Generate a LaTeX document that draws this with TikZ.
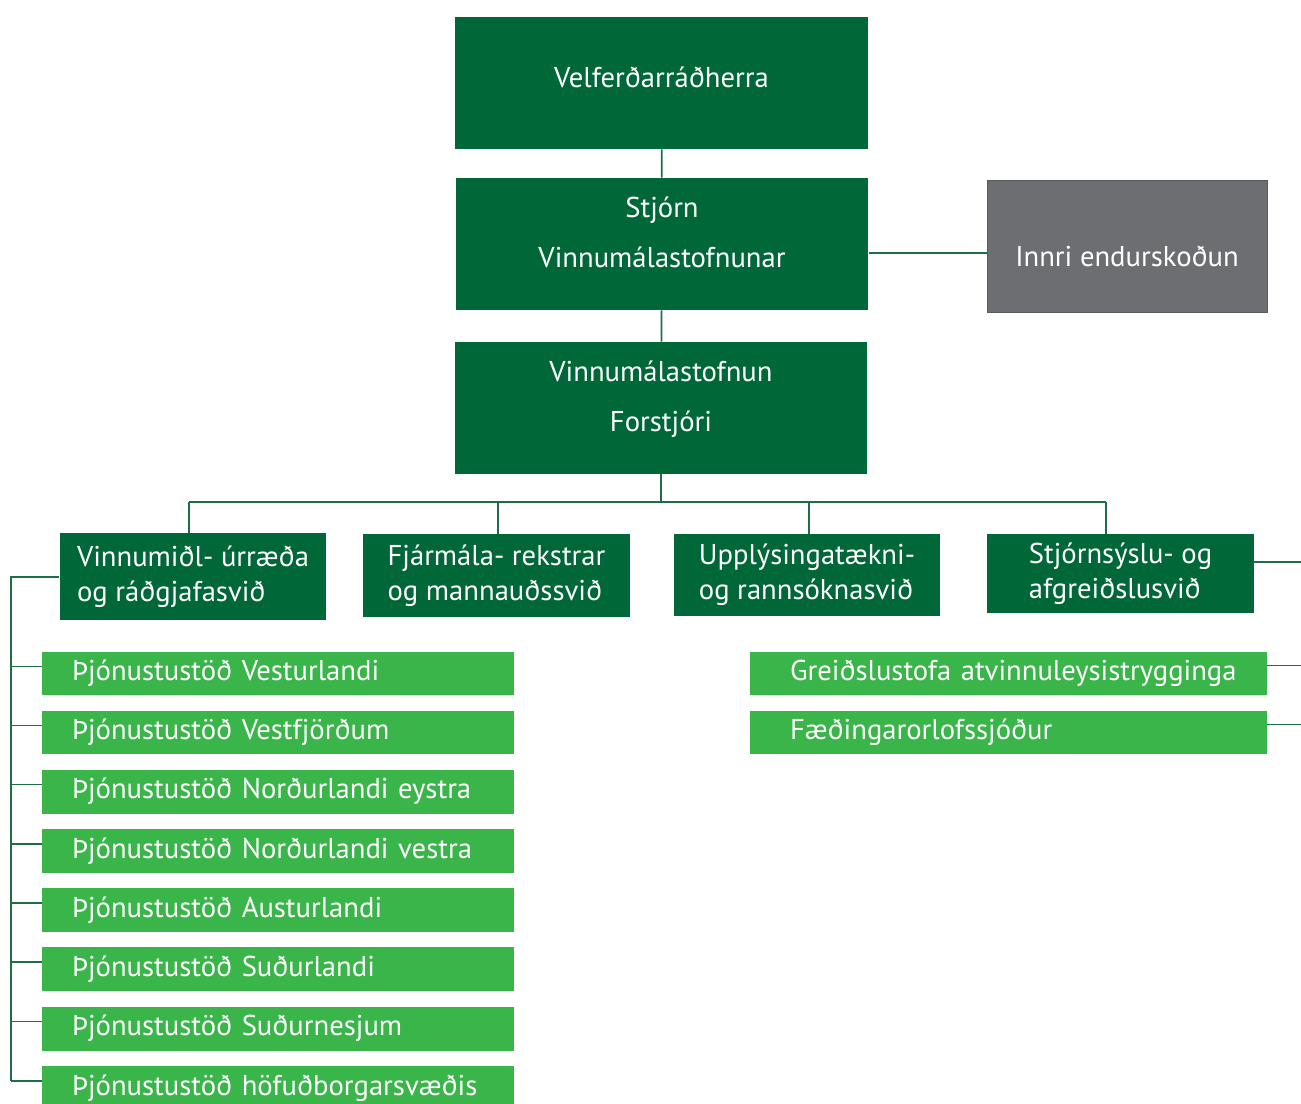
\documentclass[tikz,border=0pt]{standalone}
\usepackage{fontspec}
\setmainfont{PT Sans}
\usepackage{tikz}
\usetikzlibrary{positioning,calc}

\definecolor{darkgreen}{HTML}{006838}
\definecolor{lightgreen}{HTML}{3AB54A}
\definecolor{linegreen}{HTML}{1D6E48}
\definecolor{boxgray}{HTML}{6D6E71}
\definecolor{edgegray}{HTML}{58595B}

\begin{document}
\begin{tikzpicture}[x=0.02cm, y=-0.02cm,
	topbox/.style={fill=darkgreen, text=white, minimum width=8.26cm, minimum height=2.64cm, align=center, font=\fontsize{16.3}{28.5}\selectfont},
	divbox/.style={fill=darkgreen, text=white, minimum width=5.34cm, minimum height=1.66cm, align=left, font=\fontsize{16.3}{20}\selectfont},
	office/.style={fill=lightgreen, text=white, minimum height=0.88cm, inner xsep=0.6cm, align=left, font=\fontsize{16.3}{19}\selectfont},
	link/.style={draw=linegreen, line width=1pt}]
	\useasboundingbox (0,0) rectangle (1301,1104);

	\node[topbox, text height=12pt, text depth=6.8pt] (velf) at (661.5, 83) {Velferðarráðherra};
	\node[topbox, text height=40pt, text depth=13.4pt] (stjorn) at (662, 244) {Stjórn\\Vinnumálastofnunar};
	\node[fill=boxgray, draw=edgegray, text=white, minimum width=5.6cm, minimum height=2.64cm, text height=30pt, text depth=6.6pt, font=\fontsize{16.3}{19}\selectfont] (innri) at (1127, 246) {Innri endurskoðun};
	\node[topbox, text height=40pt, text depth=13.4pt] (forstj) at (661, 408) {Vinnumálastofnun\\Forstjóri};

	\node[divbox, minimum height=1.74cm] (vmr) at (193, 576.5) {Vinnumiðl- úrræða\\og ráðgjafasvið};
	\node[divbox] (fjar) at (496.5, 575.5) {Fjármála- rekstrar\\og mannauðssvið};
	\node[divbox, minimum height=1.64cm] (upp) at (807, 575) {Upplýsingatækni-\\og rannsóknasvið};
	\node[divbox, minimum height=1.58cm] (stj) at (1120.5, 573.5) {Stjórnsýslu- og\\afgreiðslusvið};

	\node[office, text width=8.24cm] (p1) at (278, 673.5) {Þjónustustöð Vesturlandi};
	\node[office, text width=8.24cm] (p2) at (278, 732.5) {Þjónustustöð Vestfjörðum};
	\node[office, text width=8.24cm] (p3) at (278, 791.5) {Þjónustustöð Norðurlandi eystra};
	\node[office, text width=8.24cm] (p4) at (278, 851) {Þjónustustöð Norðurlandi vestra};
	\node[office, text width=8.24cm] (p5) at (278, 910) {Þjónustustöð Austurlandi};
	\node[office, text width=8.24cm] (p6) at (278, 969) {Þjónustustöð Suðurlandi};
	\node[office, text width=8.24cm] (p7) at (278, 1028.5) {Þjónustustöð Suðurnesjum};
	\node[office, text width=8.24cm] (p8) at (278, 1088) {Þjónustustöð höfuðborgarsvæðis};

	\node[office, text width=8.74cm, inner xsep=0.8cm] (g1) at (1008.5, 673.5) {\mbox{Greiðslustofa atvinnuleysistrygginga}};
	\node[office, text width=8.74cm, inner xsep=0.8cm] (g2) at (1008.5, 732.5) {Fæðingarorlofssjóður};

	% top chain
	\draw[link] (velf) -- (stjorn);
	\draw[link] (stjorn) -- (forstj);
	\draw[link] (stjorn.east |- 0,253) -- (innri.west |- 0,253);

	% bus to the four divisions
	\coordinate (b0) at (661, 502);
	\coordinate (b1) at (189, 502);
	\coordinate (b2) at (498, 502);
	\coordinate (b3) at (809, 502);
	\coordinate (b4) at (1106, 502);
	\draw[link] (forstj) -- (b0);
	\draw[link] (b1) -- (b4);
	\draw[link] (b1) -- (b1 |- vmr.north);
	\draw[link] (b2) -- (b2 |- fjar.north);
	\draw[link] (b3) -- (b3 |- upp.north);
	\draw[link] (b4) -- (b4 |- stj.north);

	% offices
	\coordinate (sp) at (11, 577);
	\foreach \i in {1,...,8}
		\coordinate (t\i) at ($(p\i.west)+(0,-7)$);
	\draw[link] (vmr.west |- sp) -- (sp) -- (sp |- t8);
	\foreach \i in {1,...,8}
		\draw[link] (t\i -| sp) -- (t\i);

	% right side
	\coordinate (r0) at (1301, 562);
	\draw[link] (stj.east |- r0) -- (r0);
	\foreach \i in {1,2} {
		\coordinate (e\i) at ($(g\i.east)+(0,-8)$);
		\draw[link] (e\i) -- (e\i -| r0);
	}
\end{tikzpicture}
\end{document}
